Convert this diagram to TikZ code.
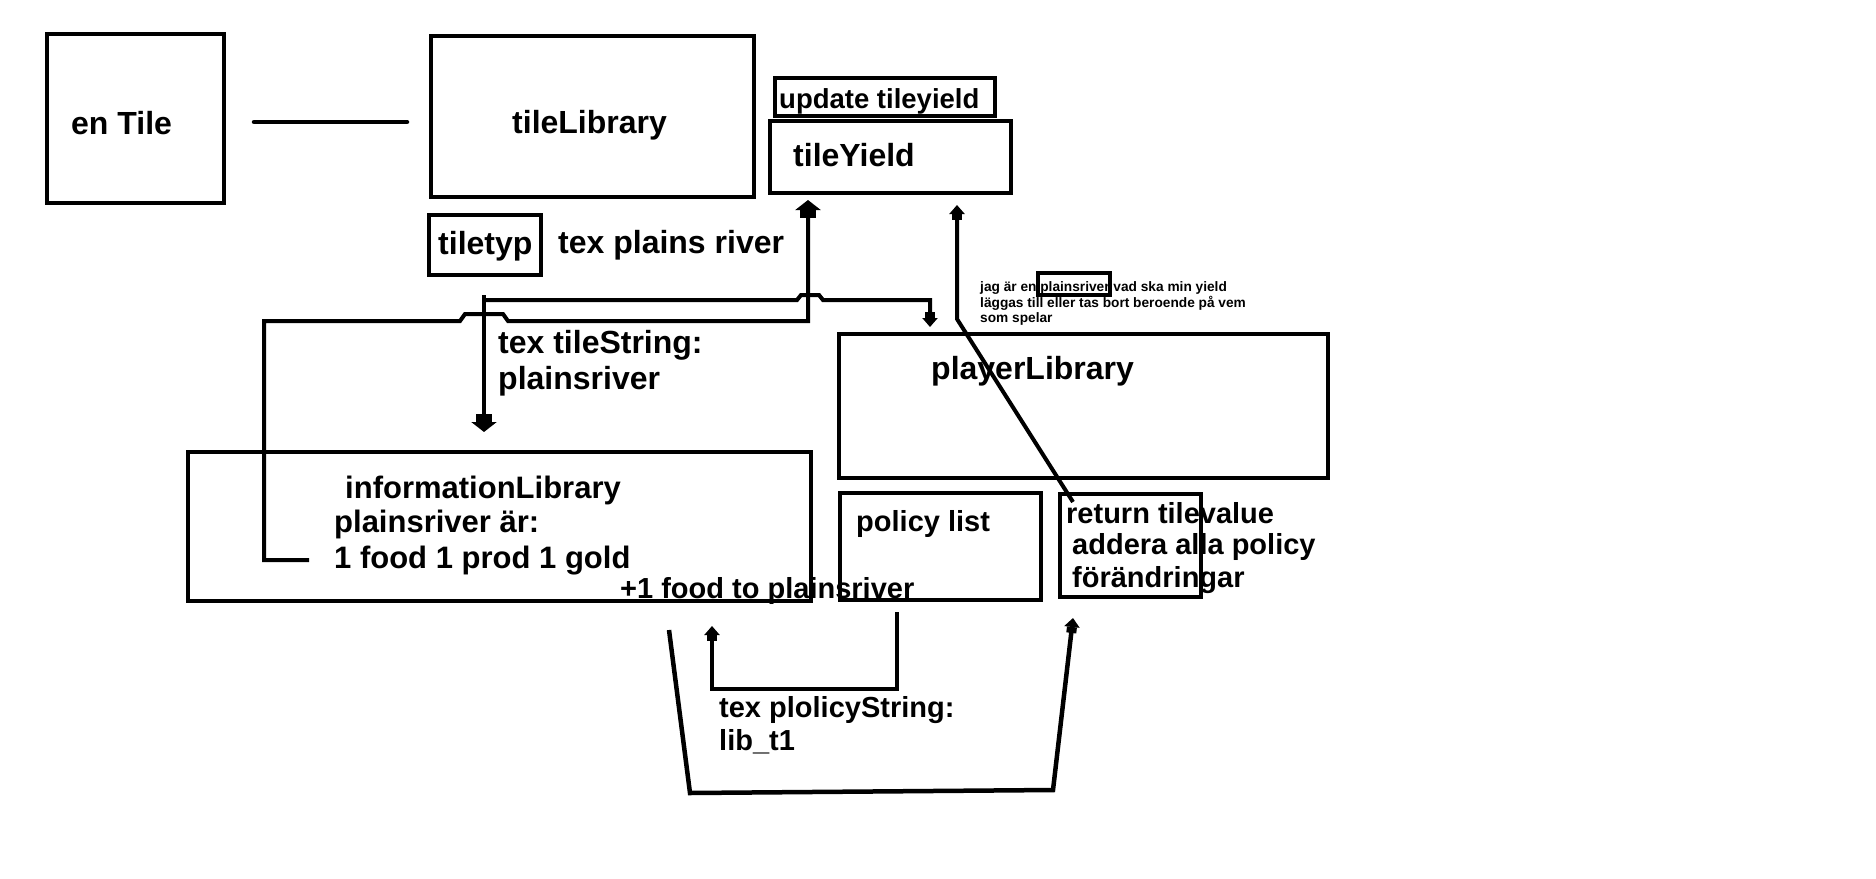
\documentclass[tikz,border=0pt]{standalone}
\usepackage{fontspec}
\setmainfont{Liberation Sans}
\usetikzlibrary{arrows.meta}
\tikzset{
  box/.style={draw, rectangle, line width=4.5pt, inner sep=0pt},
  wire/.style={line width=4pt},
  bigtip/.style={wire, -{Rectangle[length=8pt,width=16pt] Triangle[length=10pt,width=25pt]}},
  smalltip/.style={wire, -{Rectangle[length=6pt,width=10pt] Triangle[length=9pt,width=15pt]}},
  lblA/.style={anchor=base west, inner sep=0pt, font=\bfseries\fontsize{32}{38}\selectfont},
  lblB/.style={anchor=base west, inner sep=0pt, font=\bfseries\fontsize{29}{35}\selectfont},
  lblU/.style={anchor=base west, inner sep=0pt, font=\bfseries\fontsize{27.5}{33}\selectfont},
  lblS/.style={anchor=base west, inner sep=0pt, font=\bfseries\fontsize{13.7}{16}\selectfont},
}
\begin{document}
\begin{tikzpicture}[x=1pt,y=-1pt]
\useasboundingbox (0,0) rectangle (1876,878);

%Shape: Rectangle
\node [box, minimum width=177pt, minimum height=169pt] (enTile) at (135.5,118.5) {};
%Shape: Rectangle
\node [box, minimum width=323pt, minimum height=161pt] (tileLib) at (592.5,116.5) {};
%Shape: Rectangle
\node [box, minimum width=112pt, minimum height=60pt] (typBox) at (485,245) {};
%Shape: Rectangle
\node [box, minimum width=220pt, minimum height=38pt] (updBox) at (885,97) {};
%Shape: Rectangle
\node [box, minimum width=241pt, minimum height=72pt] (yieldBox) at (890.5,157) {};
%Shape: Rectangle
\node [box, minimum width=623pt, minimum height=149pt] (infoLib) at (499.5,526.5) {};
%Shape: Rectangle
\node [box, minimum width=489pt, minimum height=144pt] (playerLib) at (1083.5,406) {};
%Shape: Rectangle
\node [box, minimum width=201pt, minimum height=107pt] (policyBox) at (940.5,546.5) {};
%Shape: Rectangle
\node [box, minimum width=141pt, minimum height=103pt] (returnBox) at (1130.5,545.5) {};
%Shape: Rectangle
\node [box, line width=4pt, minimum width=72pt, minimum height=22pt] (psBox) at (1074,284) {};

% Text Node
\node [lblA] (enTileTxt) at (71,134) {en Tile};
\node [lblA] (tileLibTxt) at (512,133) {tileLibrary};
\node [lblA] (typTxt) at (438,254) {tiletyp};
\node [lblA] (plainsTxt) at (558,253) {tex plains river};
\node [lblU] (updTxt) at (779,108) {update tileyield};
\node [lblA] (yieldTxt) at (793,166) {tileYield};
\node [lblA] (strTxtA) at (498,353) {tex tileString:};
\node [lblA] (strTxtB) at (498,389) {plainsriver};
\node [lblA, font=\bfseries\fontsize{31}{36}\selectfont] (infoTxtA) at (345,498) {informationLibrary};
\node [lblA, font=\bfseries\fontsize{31}{36}\selectfont] (infoTxtB) at (334,532) {plainsriver är:};
\node [lblA, font=\bfseries\fontsize{31}{36}\selectfont] (infoTxtC) at (334,568) {1 food 1 prod 1 gold};
\node [lblA] (playerTxt) at (931,379) {playerLibrary};
\node [lblB] (policyTxt) at (856,531) {policy list};
\node [lblB] (foodTxt) at (620,598) {+1 food to plainsriver};
\node [lblB] (retTxtA) at (1066,523) {return tilevalue};
\node [lblB] (retTxtB) at (1072,554) {addera alla policy};
\node [lblB] (retTxtC) at (1072,587) {förändringar};
\node [lblB] (polTxtA) at (719,717) {tex plolicyString:};
\node [lblB] (polTxtB) at (719,750) {lib\_t1};
\node [lblS] (noteA) at (980,291) {jag är en plainsriver vad ska min yield};
\node [lblS] (noteB) at (980,307) {läggas till eller tas bort beroende på vem};
\node [lblS] (noteC) at (980,322) {som spelar};

% free ends of the connectors
\coordinate (linkA) at (254,122);
\coordinate (linkB) at (407,122);
\coordinate (strTop) at (484,295);
\coordinate (strTip) at (484,432);
\coordinate (strKnee) at (484,300);
\coordinate (infTail) at (309,560);
\coordinate (diagFoot) at (1073,502);
\coordinate (diagKnee) at (957,319);
\coordinate (polTop) at (897,612);
\coordinate (polLow) at (712,689);
\coordinate (polTip) at (712,626);
\coordinate (uStart) at (669,630);
\coordinate (uLeft) at (690,793);
\coordinate (uRight) at (1053,790);
\coordinate (uTip) at (1073,618);

%Straight Lines
\draw [wire, line width=4.5pt, line cap=round] (linkA) -- (linkB);
%Straight Lines
\draw [bigtip] (strTop) -- (strTip);
%Straight Lines
\draw [smalltip] (strKnee) -- (797,300) -- (801,295) -- (819,295) -- (823,300) -- (930,300) -- (930,327);
%Straight Lines
\draw [bigtip] (infTail) -- (264,560) -- (264,321) -- (460,321) -- (465,314) -- (503,314) -- (508,321) -- (808,321) -- (808,200);
%Straight Lines
\draw [smalltip] (diagFoot) -- (diagKnee) -- (957,205);
%Straight Lines
\draw [smalltip] (polTop) |- (polLow) -- (polTip);
%Straight Lines
\draw [smalltip, line width=4.5pt] (uStart) -- (uLeft) -- (uRight) -- (uTip);
\end{tikzpicture}
\end{document}
